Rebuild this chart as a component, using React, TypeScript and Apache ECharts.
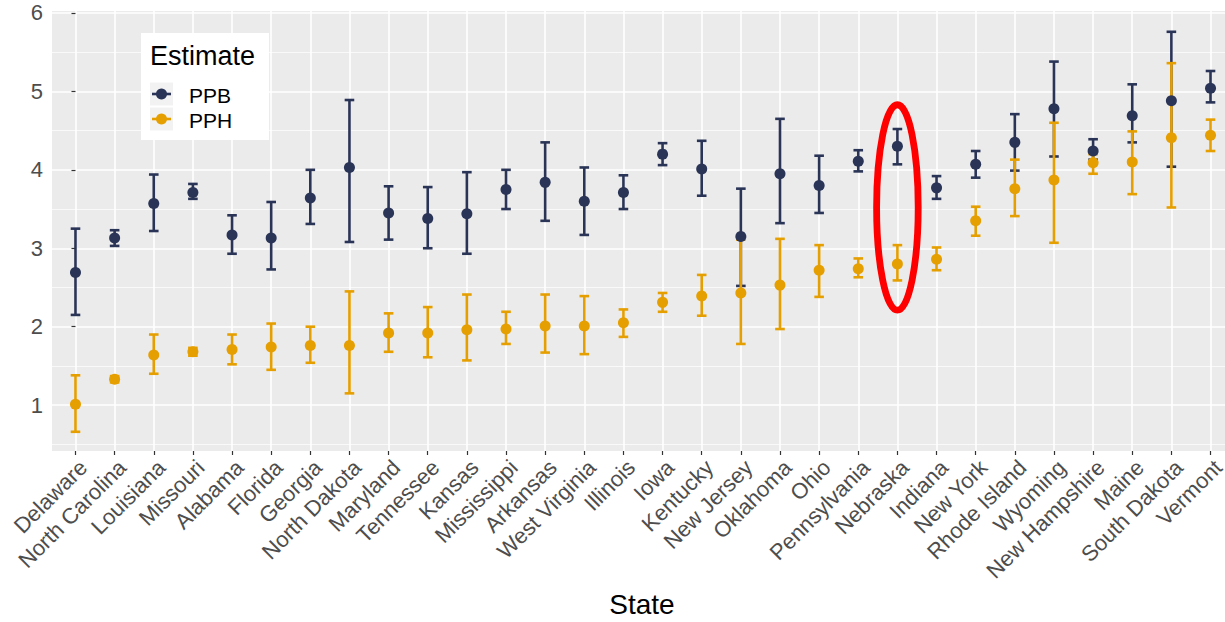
import React, { useEffect, useRef } from "react";
import * as echarts from "echarts";

const states = [
  "Delaware", "North Carolina", "Louisiana", "Missouri", "Alabama", "Florida", "Georgia",
  "North Dakota", "Maryland", "Tennessee", "Kansas", "Mississippi", "Arkansas", "West Virginia",
  "Illinois", "Iowa", "Kentucky", "New Jersey", "Oklahoma", "Ohio", "Pennsylvania", "Nebraska",
  "Indiana", "New York", "Rhode Island", "Wyoming", "New Hampshire", "Maine", "South Dakota", "Vermont",
];

const ppbEst = [2.69, 3.13, 3.57, 3.71, 3.17, 3.13, 3.64, 4.03, 3.45, 3.38, 3.44, 3.75, 3.84, 3.60, 3.71, 4.20, 4.01, 3.15, 3.95, 3.80, 4.11, 4.30, 3.77, 4.07, 4.35, 4.78, 4.24, 4.69, 4.88, 5.04];
const ppbLo = [2.15, 3.03, 3.22, 3.63, 2.93, 2.73, 3.31, 3.08, 3.11, 3.00, 2.93, 3.50, 3.35, 3.17, 3.50, 4.06, 3.67, 2.52, 3.32, 3.45, 3.98, 4.07, 3.63, 3.90, 3.99, 4.17, 4.13, 4.35, 4.04, 4.86];
const ppbHi = [3.25, 3.23, 3.94, 3.82, 3.42, 3.59, 4.00, 4.89, 3.79, 3.78, 3.97, 4.00, 4.35, 4.03, 3.93, 4.34, 4.37, 3.76, 4.65, 4.18, 4.25, 4.52, 3.92, 4.24, 4.71, 5.38, 4.39, 5.09, 5.76, 5.26];

const pphEst = [1.01, 1.33, 1.64, 1.68, 1.71, 1.74, 1.76, 1.76, 1.92, 1.92, 1.96, 1.97, 2.01, 2.01, 2.05, 2.31, 2.39, 2.43, 2.53, 2.72, 2.74, 2.80, 2.86, 3.35, 3.76, 3.87, 4.09, 4.10, 4.41, 4.44];
const pphLo = [0.66, 1.29, 1.40, 1.63, 1.52, 1.45, 1.54, 1.15, 1.68, 1.61, 1.57, 1.78, 1.67, 1.65, 1.87, 2.19, 2.14, 1.78, 1.97, 2.38, 2.63, 2.59, 2.72, 3.16, 3.41, 3.07, 3.95, 3.69, 3.52, 4.24];
const pphHi = [1.38, 1.37, 1.90, 1.73, 1.90, 2.04, 2.00, 2.45, 2.17, 2.25, 2.41, 2.19, 2.41, 2.39, 2.22, 2.43, 2.66, 3.11, 3.12, 3.04, 2.87, 3.04, 3.01, 3.53, 4.13, 4.60, 4.20, 4.49, 5.36, 4.64];

const yTicks = [1, 2, 3, 4, 5, 6];
const xTicks = states.map((_, i) => i);

// highlighted state (red ellipse)
const highlightState = "Nebraska";
const highlightCenter = 3.52;
const highlightHalfHeight = 1.31;

const NAVY = "#2A3456";
const GOLD = "#E69F00";
const FONT = "'Liberation Sans', Arial, Helvetica, sans-serif";

function errorBarSeries(lo: number[], hi: number[], color: string) {
  return {
    type: "custom",
    silent: true,
    data: lo.map((l, i) => [i, l, hi[i]]),
    encode: { x: 0, y: [1, 2] },
    renderItem: (params: any, api: any) => {
      const x = api.value(0);
      const top = api.coord([x, api.value(2)]);
      const bot = api.coord([x, api.value(1)]);
      const hw = 4.8;
      const style = { stroke: color, lineWidth: 2.6, fill: null };
      return {
        type: "group",
        children: [
          { type: "line", shape: { x1: top[0], y1: top[1], x2: bot[0], y2: bot[1] }, style },
          { type: "line", shape: { x1: top[0] - hw, y1: top[1], x2: top[0] + hw, y2: top[1] }, style },
          { type: "line", shape: { x1: bot[0] - hw, y1: bot[1], x2: bot[0] + hw, y2: bot[1] }, style },
        ],
      };
    },
  };
}

export default function App() {
  const ref = useRef<HTMLDivElement>(null);

  useEffect(() => {
    if (!ref.current) return;
    const chart = echarts.init(ref.current, null, { renderer: "svg" });
    const option: any = {
      animation: false,
      textStyle: { fontFamily: FONT },
      grid: {
        left: 52,
        right: -9,
        top: 11,
        bottom: 171,
        show: true,
        backgroundColor: "#EBEBEB",
        borderWidth: 0,
        containLabel: false,
        outerBoundsMode: "none",
      },
      xAxis: {
        type: "value",
        min: -0.6,
        max: 29.6,
        axisLine: { show: false },
        axisTick: {
          show: true,
          customValues: xTicks,
          length: 4,
          lineStyle: { color: "#333333", width: 1.2 },
        },
        axisLabel: {
          customValues: xTicks,
          rotate: 45,
          margin: 5,
          verticalAlign: "top",
          fontSize: 22,
          color: "#4D4D4D",
          fontFamily: FONT,
          formatter: (v: number) => states[Math.round(v)] ?? "",
        },
        splitLine: { show: true, lineStyle: { color: "#FFFFFF", width: 1.6 } },
      },
      yAxis: {
        type: "value",
        min: 0.415,
        max: 6.025,
        axisLine: { show: false },
        axisTick: {
          show: true,
          customValues: yTicks,
          length: 4,
          lineStyle: { color: "#333333", width: 1.2 },
        },
        axisLabel: {
          customValues: yTicks,
          margin: 9,
          fontSize: 22,
          color: "#4D4D4D",
          fontFamily: FONT,
          formatter: (v: number) => (Number.isInteger(v) ? String(v) : ""),
        },
        splitLine: { show: true, lineStyle: { color: "#FFFFFF", width: 1.6 } },
        minorTick: { show: false, splitNumber: 2 },
        minorSplitLine: { show: true, lineStyle: { color: "#FFFFFF", width: 0.7 } },
      },
      series: [
        errorBarSeries(ppbLo, ppbHi, NAVY),
        errorBarSeries(pphLo, pphHi, GOLD),
        {
          type: "scatter",
          name: "PPB",
          symbol: "circle",
          symbolSize: 11,
          itemStyle: { color: NAVY, opacity: 1 },
          data: ppbEst.map((v, i) => [i, v]),
          silent: true,
        },
        {
          type: "scatter",
          name: "PPH",
          symbol: "circle",
          symbolSize: 11,
          itemStyle: { color: GOLD, opacity: 1 },
          data: pphEst.map((v, i) => [i, v]),
          silent: true,
        },
      ],
    };
    chart.setOption(option);

    const hIdx = states.indexOf(highlightState);
    const c = chart.convertToPixel({ gridIndex: 0 }, [hIdx, highlightCenter]) as number[];
    const t = chart.convertToPixel({ gridIndex: 0 }, [hIdx, highlightCenter + highlightHalfHeight]) as number[];
    const ry = Math.abs(c[1] - t[1]);

    chart.setOption({
      graphic: [
        {
          type: "ellipse",
          shape: { cx: c[0], cy: c[1], rx: 20.8, ry },
          style: { fill: "none", stroke: "#FF0000", lineWidth: 6.8 },
          z: 100,
          silent: true,
        },
        { type: "rect", silent: true, z: 100, shape: { x: 141, y: 33, width: 128, height: 107 }, style: { fill: "#FFFFFF" } },
        {
          type: "text", silent: true, z: 101,
          x: 150,
          y: 56,
          style: { text: "Estimate", font: `27px ${FONT}`, fill: "#000000", verticalAlign: "middle", align: "left" },
        },
        { type: "rect", silent: true, z: 101, shape: { x: 150, y: 82.5, width: 23, height: 23 }, style: { fill: "#F2F2F2" } },
        { type: "rect", silent: true, z: 101, shape: { x: 150, y: 107.5, width: 23, height: 23 }, style: { fill: "#F2F2F2" } },
        { type: "line", silent: true, z: 102, shape: { x1: 152, y1: 94, x2: 171, y2: 94 }, style: { stroke: NAVY, lineWidth: 2.6 } },
        { type: "circle", silent: true, z: 102, shape: { cx: 161.5, cy: 94, r: 5.5 }, style: { fill: NAVY } },
        { type: "line", silent: true, z: 102, shape: { x1: 152, y1: 119, x2: 171, y2: 119 }, style: { stroke: GOLD, lineWidth: 2.6 } },
        { type: "circle", silent: true, z: 102, shape: { cx: 161.5, cy: 119, r: 5.5 }, style: { fill: GOLD } },
        {
          type: "text", silent: true, z: 101,
          x: 189,
          y: 95,
          style: { text: "PPB", font: `21px ${FONT}`, fill: "#000000", verticalAlign: "middle", align: "left" },
        },
        {
          type: "text", silent: true, z: 101,
          x: 189,
          y: 120,
          style: { text: "PPH", font: `21px ${FONT}`, fill: "#000000", verticalAlign: "middle", align: "left" },
        },
        {
          type: "text",
          x: 642,
          y: 604,
          silent: true,
          style: { text: "State", font: `28px ${FONT}`, fill: "#000000", verticalAlign: "middle", align: "center" },
        },
      ],
    });

    return () => chart.dispose();
  }, []);

  return (
    <div
      ref={ref}
      style={{ position: "fixed", left: 0, top: 0, width: 1225, height: 622, background: "#FFFFFF" }}
    />
  );
}
